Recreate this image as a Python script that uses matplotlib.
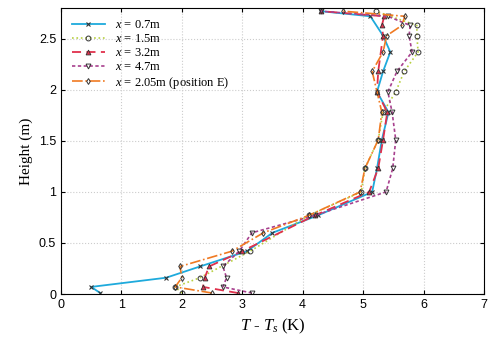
import matplotlib
matplotlib.use('Agg')
import matplotlib.pyplot as plt

# Temperature excess profiles, T - Ts (K) against height (m)
h_07 = [0.01, 0.07, 0.16, 0.27, 0.42, 0.6, 0.77, 1.0, 1.23, 1.51, 1.78, 1.98, 2.18, 2.37, 2.53, 2.72, 2.77]
T_07 = [0.65, 0.5, 1.74, 2.3, 3.08, 3.5, 4.25, 5.15, 5.23, 5.31, 5.42, 5.23, 5.33, 5.45, 5.33, 5.12, 4.3]

h_15 = [0.01, 0.07, 0.16, 0.42, 0.77, 1.0, 1.23, 1.51, 1.78, 1.98, 2.18, 2.37, 2.53, 2.63, 2.77]
T_15 = [2.0, 1.89, 2.3, 3.13, 4.1, 4.97, 5.03, 5.25, 5.33, 5.54, 5.68, 5.91, 5.89, 5.89, 5.21]

h_32 = [0.01, 0.07, 0.16, 0.27, 0.42, 0.77, 1.0, 1.23, 1.51, 1.78, 1.98, 2.18, 2.53, 2.63, 2.72, 2.77]
T_32 = [2.93, 2.35, 2.38, 2.45, 3.0, 4.2, 5.1, 5.25, 5.33, 5.4, 5.23, 5.25, 5.33, 5.31, 5.35, 4.3]

h_47 = [0.01, 0.07, 0.16, 0.27, 0.42, 0.6, 0.77, 1.0, 1.23, 1.51, 1.78, 1.98, 2.18, 2.37, 2.53, 2.63, 2.72, 2.77]
T_47 = [3.16, 2.68, 2.74, 2.68, 2.95, 3.16, 4.2, 5.38, 5.49, 5.54, 5.48, 5.41, 5.56, 5.81, 5.76, 5.78, 5.41, 4.3]

h_E = [0.01, 0.07, 0.16, 0.27, 0.42, 0.6, 0.77, 1.0, 1.23, 1.51, 1.78, 1.98, 2.18, 2.37, 2.53, 2.63, 2.72, 2.77]
T_E = [2.5, 1.89, 2.0, 1.97, 2.83, 3.35, 4.1, 4.95, 5.03, 5.25, 5.31, 5.23, 5.15, 5.33, 5.39, 5.64, 5.69, 4.67]

labels = [r'$x$ = 0.7m', r'$x$ = 1.5m', r'$x$ = 3.2m', r'$x$ = 4.7m', r'$x$ = 2.05m (position E)']

serif = 'Liberation Serif'
plt.rcParams['font.family'] = 'Liberation Sans'
plt.rcParams['mathtext.fontset'] = 'custom'
plt.rcParams['mathtext.it'] = 'Liberation Serif:italic'
plt.rcParams['mathtext.rm'] = 'Liberation Serif'

fig = plt.figure(figsize=(4.89, 3.38), dpi=100)
ax = fig.add_axes([0.1247, 0.130, 0.865, 0.846])

ec = '#333333'
ax.plot(T_07, h_07, '-', color='#1eaadc', lw=1.3, marker='x', ms=3.5, mec=ec, mew=0.8, label=labels[0])
ax.plot(T_15, h_15, ':', color='#b8d040', lw=1.2, marker='o', ms=3.5, mec=ec, mfc='none', mew=0.7, label=labels[1])
ax.plot(T_32, h_32, '--', color='#e0304c', lw=1.3, dashes=(5, 3), marker='^', ms=3.5, mec=ec, mfc='#e0304c', mew=0.6, label=labels[2])
ax.plot(T_47, h_47, '--', color='#a8408e', lw=1.2, dashes=(2, 1.5), marker='v', ms=3.5, mec=ec, mfc='none', mew=0.7, label=labels[3])
ax.plot(T_E, h_E, '-.', color='#f07a22', lw=1.2, marker='d', ms=3, mec=ec, mfc='none', mew=0.7, label=labels[4])

ax.set_xlim(0, 7)
ax.set_ylim(0, 2.8)
ax.set_xticks(range(0, 8))
ax.set_yticks([0, 0.5, 1, 1.5, 2, 2.5])
ax.set_yticklabels(['0', '0.5', '1', '1.5', '2', '2.5'])
ax.tick_params(direction='in', top=True, right=True, labelsize=9, length=3)
ax.grid(True, linestyle=':', color='#cccccc', lw=0.8)

ax.set_xlabel(r'$T$ - $T_s$ (K)', fontsize=12, family=serif)
ax.set_ylabel('Height (m)', fontsize=11, family=serif)

leg = ax.legend(loc='upper left', frameon=False, handlelength=2.6,
                labelspacing=0.15, borderaxespad=0.3, borderpad=0.6,
                prop={'family': serif, 'size': 9})

fig.savefig('out.png', dpi=100)
